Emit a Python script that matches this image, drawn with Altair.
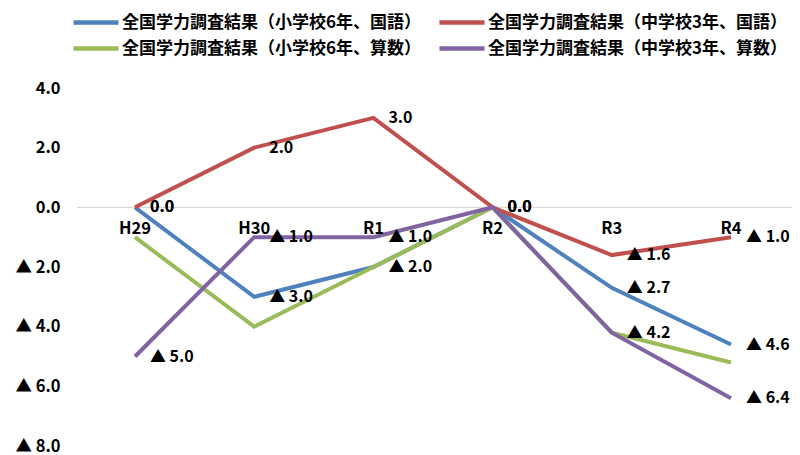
import altair as alt
import pandas as pd

years = ["H29", "H30", "R1", "R2", "R3", "R4"]
series_names = [
    "全国学力調査結果（小学校6年、国語）",
    "全国学力調査結果（中学校3年、国語）",
    "全国学力調査結果（小学校6年、算数）",
    "全国学力調査結果（中学校3年、算数）",
]
elem_jp = [0.0, -3.0, -2.0, 0.0, -2.7, -4.6]
jh_jp = [0.0, 2.0, 3.0, 0.0, -1.6, -1.0]
elem_math = [-1.0, -4.0, -2.0, 0.0, -4.2, -5.2]
jh_math = [-5.0, -1.0, -1.0, 0.0, -4.2, -6.4]
show_labels = [True, True, False, True]
colors = ["#4F81BD", "#C0504D", "#9BBB59", "#8064A2"]
y_ticks = [-8, -6, -4, -2, 0, 2, 4]

FONT = "Noto Sans CJK JP"

rows = []
for si, (name, vals) in enumerate(zip(series_names, [elem_jp, jh_jp, elem_math, jh_math])):
    for i, (yr, v) in enumerate(zip(years, vals)):
        rows.append({"year": yr, "series": name, "value": v, "s": si, "i": i,
                     "lab": show_labels[si]})
df = pd.DataFrame(rows)

# legend is laid out column by column: blue, green | red, purple
legend_order = [0, 2, 1, 3]
legend_domain = [series_names[k] for k in legend_order]
legend_range = [colors[k] for k in legend_order]

xscale = alt.Scale(type="point", domain=years, padding=0.411)
yscale = alt.Scale(domain=[-8, 4], nice=False, zero=False)

base = alt.Chart(df)

zero = alt.Chart(pd.DataFrame({"z": [0]})).mark_rule(color="#d9d9d9", strokeWidth=1.2).encode(
    y=alt.Y("z:Q", scale=yscale),
    x=alt.value(-9), x2=alt.value(706),
)

lines = base.mark_line(strokeWidth=4).encode(
    x=alt.X("year:N", scale=xscale, axis=None),
    y=alt.Y("value:Q", scale=yscale,
            axis=alt.Axis(values=y_ticks, grid=False, domain=False, ticks=False,
                          labelPadding=26, title=None, labelFontSize=16.5, labelFont=FONT,
                          labelColor="black", labelFontWeight="bold",
                          labelExpr="datum.value < 0 ? '▲ ' + format(-datum.value, '.1f') : format(datum.value, '.1f')")),
    color=alt.Color("series:N", scale=alt.Scale(domain=legend_domain, range=legend_range),
                    legend=alt.Legend(title=None, orient="none", legendX=-6, legendY=-81.5,
                                      columns=2, symbolType="M-1.67,0H1.67", symbolStrokeWidth=4.5,
                                      symbolSize=729, labelFont=FONT, labelFontSize=17,
                                      labelFontWeight="bold",
                                      labelColor="black", labelLimit=400, labelOffset=10,
                                      columnPadding=8, rowPadding=1)),
    detail="s:N",
    order="i:Q",
)

labels = base.transform_filter("datum.lab").transform_calculate(
    txt="datum.value < 0 ? '▲ ' + format(-datum.value, '.1f') : format(datum.value, '.1f')"
).mark_text(align="left", baseline="middle", dx=15, fontSize=16, font=FONT,
            fontWeight="bold", color="black").encode(
    x=alt.X("year:N", scale=xscale),
    y=alt.Y("value:Q", scale=yscale),
    text="txt:N",
)

xlabels = alt.Chart(pd.DataFrame({"year": years, "z": [0] * len(years)})).mark_text(
    align="center", baseline="middle", dy=22, fontSize=16.5, font=FONT, fontWeight="bold",
    color="black"
).encode(
    x=alt.X("year:N", scale=xscale),
    y=alt.Y("z:Q", scale=yscale),
    text="year:N",
)

chart = alt.layer(zero, lines, labels, xlabels).properties(
    width=694, height=358,
    padding={"left": 78, "top": 80, "right": 12, "bottom": 10},
    autosize="none",
).configure_view(stroke=None)

chart.save("out.html", embed_options={"renderer": "svg", "actions": False})
